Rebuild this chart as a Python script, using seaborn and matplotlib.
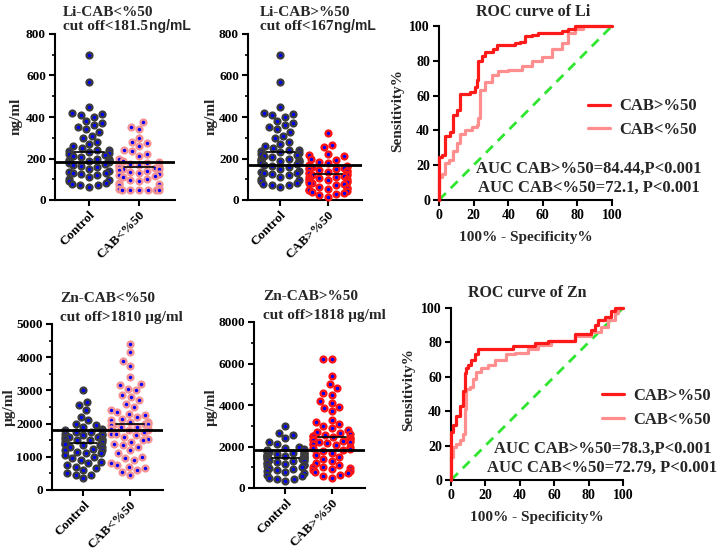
import numpy as np
import pandas as pd
import matplotlib
matplotlib.use("Agg")
import matplotlib.pyplot as plt
import seaborn as sns

# =========================
# DATA
# =========================
li_control = [700, 570, 450, 420, 415, 410, 400, 380, 370, 360, 350, 340, 330, 310, 300,
              280, 270, 260, 250, 240, 240, 235, 230, 225, 220, 215, 210, 205, 200, 200,
              195, 195, 190, 190, 190, 185, 180, 175, 170, 165, 160, 150, 140, 135, 130,
              130, 125, 120, 110, 100, 95, 90, 80, 75, 70, 70, 65]
li_cab_low = [375, 350, 340, 300, 280, 275, 260, 240, 235, 220, 210, 200, 190, 185, 180,
              175, 170, 170, 165, 160, 160, 155, 150, 150, 145, 140, 135, 130, 125, 120,
              115, 110, 100, 95, 90, 80, 75, 70, 60, 55, 50, 50, 50, 50, 50, 50]
li_cab_high = [325, 265, 255, 220, 215, 210, 200, 195, 185, 180, 170, 165, 160, 160, 155,
               155, 150, 150, 145, 140, 140, 135, 130, 130, 125, 120, 120, 115, 110, 110,
               105, 100, 100, 95, 90, 90, 85, 80, 80, 75, 70, 65, 60, 60, 55, 50, 50, 45,
               40, 35, 30, 25, 15]
zn_control = [3000, 2650, 2550, 2400, 2200, 2100, 2000, 1950, 1900, 1850, 1800, 1800, 1750,
              1750, 1700, 1700, 1650, 1650, 1600, 1600, 1600, 1550, 1550, 1500, 1500, 1500,
              1450, 1450, 1400, 1400, 1350, 1350, 1300, 1300, 1250, 1200, 1200, 1150, 1100,
              1100, 1050, 1000, 950, 900, 850, 800, 750, 700, 650, 600, 500, 450, 450, 350]
zn_cab_low = [4400, 4150, 3900, 3750, 3400, 3200, 3150, 3050, 3000, 2850, 2800, 2700, 2600,
              2500, 2400, 2350, 2300, 2250, 2200, 2150, 2100, 2050, 2050, 2000, 2000, 1950,
              1950, 1900, 1900, 1850, 1850, 1800, 1800, 1750, 1700, 1700, 1650, 1600, 1550,
              1500, 1450, 1400, 1350, 1300, 1200, 1100, 1000, 950, 900, 800, 750, 700, 650,
              600, 550, 450]
zn_cab_high = [6200, 6200, 5400, 5000, 4800, 4600, 4500, 4200, 4100, 3900, 3850, 3700, 3300,
               3200, 3100, 3000, 2900, 2800, 2700, 2650, 2600, 2550, 2500, 2500, 2450, 2400,
               2400, 2350, 2300, 2300, 2250, 2200, 2200, 2150, 2100, 2100, 2050, 2000, 1950,
               1900, 1850, 1800, 1700, 1600, 1500, 1400, 1300, 1200, 1100, 1000, 1000, 950,
               900, 850, 800, 750, 700, 650, 600, 500]

cutoffs = {"li_low": 181.5, "li_high": 167, "zn_low": 1810, "zn_high": 1818}

# ROC curves (100% - specificity, sensitivity)
li_high_fpr = [0, 0, 2, 3.5, 6.4, 8.3, 10.2, 12.1, 17.9, 20.8, 21.8, 22.7, 24.7, 26.6, 31.4,
               33.3, 43.9, 46.8, 49.7, 53.6, 57.4, 70.9, 74.8, 78.6, 100]
li_high_tpr = [0, 25, 26, 37, 39, 49, 52, 61, 62, 65, 69, 80, 83, 85, 87,
               89, 90, 91, 94, 95, 96, 97, 98, 100, 100]
li_low_fpr = [0, 0, 1.5, 3.5, 5.5, 8.3, 10.2, 12.1, 15, 18.9, 21.8, 22.7, 23.7, 26.6, 30.4,
              34.3, 40, 48, 53.6, 59.4, 65.1, 70.9, 74.8, 78.6, 83.4, 100]
li_low_tpr = [0, 13, 15, 21, 23, 28, 33, 38, 40, 42, 43, 47, 63, 68, 72,
              74, 75, 77, 80, 82, 87, 90, 96, 98, 100, 100]
zn_high_fpr = [0, 0, 1.2, 3.1, 5, 7, 7.9, 8.9, 9.9, 11.8, 13.8, 15.7, 36, 48.6, 56.4,
               71.9, 81.6, 83.5, 85.5, 89.3, 93.2, 95.2, 100]
zn_high_tpr = [0, 28, 32, 37, 43, 52, 62, 65, 67, 70, 73, 76, 78, 79.5, 81,
               85, 87, 90, 93, 95, 98, 100, 100]
zn_low_fpr = [0, 0, 1.2, 3.1, 5, 7, 7.9, 8.9, 10.9, 12.8, 14.7, 17.6, 21.5, 25.4, 32.2,
              37, 44.8, 50.6, 58.3, 71.9, 81.6, 87.4, 91.3, 95.2, 97.1, 100]
zn_low_tpr = [0, 13.5, 19, 21, 23, 27, 41, 53, 54, 59, 63, 65, 67, 70, 73,
              74, 76, 78.5, 81, 84, 86, 89, 93, 97, 100, 100]

# =========================
# STYLE
# =========================
W, H = 719, 550
CTRL_EDGE = "#3c3c3c"
LOW_EDGE = "#f49494"
HIGH_EDGE = "#ff1414"
DOT_FACE = "#0000ff"
ROC_HIGH = "#ff1a1a"
ROC_LOW = "#ff8e8e"
DIAG = "#2ee62e"
SERIF = ["Liberation Serif", "DejaVu Serif"]
SANS = ["Liberation Sans", "DejaVu Sans"]

sns.set_theme(style="ticks")
plt.rcParams["font.family"] = SERIF
plt.rcParams["font.weight"] = "bold"
plt.rcParams["axes.labelweight"] = "bold"
plt.rcParams["axes.linewidth"] = 1.5
plt.rcParams["xtick.major.width"] = 1.5
plt.rcParams["ytick.major.width"] = 1.5
plt.rcParams["ytick.minor.width"] = 1.2
plt.rcParams["xtick.major.size"] = 4
plt.rcParams["ytick.major.size"] = 4
plt.rcParams["ytick.minor.size"] = 2.5
plt.rcParams["xtick.major.pad"] = 2.5
plt.rcParams["ytick.major.pad"] = 2.5
plt.rcParams["xtick.color"] = "black"
plt.rcParams["ytick.color"] = "black"
plt.rcParams["axes.edgecolor"] = "black"


def px_axes(fig, left, right, top, bottom):
    return fig.add_axes([left / W, 1 - bottom / H, (right - left) / W, (bottom - top) / H])


def ftext(fig, x, y, s, **kw):
    fig.text(x / W, 1 - y / H, s, fontweight="bold", **kw)


def title_lines(fig, x, y1, y2, first, cut, unit):
    # second line: Times-like "cut off..." followed by a sans unit, as in the source
    ftext(fig, x, y1, first, fontsize=11, va="center", family=SERIF)
    t = fig.text(x / W, 1 - y2 / H, cut, fontsize=11, fontweight="bold", va="center",
                 family=SERIF)
    fig.canvas.draw()
    bb = t.get_window_extent()
    fig.text(bb.x1 / W + 0.5 / W, 1 - y2 / H, unit, fontsize=10, fontweight="bold",
             va="center", family=SANS)


def dot_panel(ax, ctrl, case, case_name, case_edge, ymax, step, cutoff):
    df = pd.DataFrame({
        "group": ["Control"] * len(ctrl) + [case_name] * len(case),
        "value": ctrl + case,
    })
    sns.swarmplot(data=df, x="group", y="value", order=["Control", case_name],
                  color=DOT_FACE, size=4.2, linewidth=1.7, edgecolor=CTRL_EDGE,
                  ax=ax, zorder=3, clip_on=False, warn_thresh=1)
    ax.collections[0].set_edgecolor(CTRL_EDGE)
    ax.collections[1].set_edgecolor(case_edge)
    for i, vals in enumerate([ctrl, case]):
        m = np.mean(vals)
        ax.plot([i - 0.3, i + 0.3], [m, m], color="black", lw=1.2, zorder=5)
    ax.axhline(cutoff, color="black", lw=2, zorder=6)
    ax.set_xlim(-0.68, 1.72)
    ax.set_ylim(0, ymax)
    major = np.arange(0, ymax + 1, step)
    ax.set_yticks(major)
    ax.set_yticks(np.arange(0, ymax + 1, step / 2), minor=True)
    ax.set_yticklabels([f"{int(v)}" for v in major], fontsize=9.5, fontweight="bold",
                       family=SERIF)
    ax.set_xticks([0, 1])
    ax.set_xticklabels(["Control", case_name], rotation=45, ha="right",
                       rotation_mode="anchor", fontsize=9.5, fontweight="bold",
                       family=SERIF)
    ax.set_xlabel("")
    ax.set_ylabel("")
    sns.despine(ax=ax)


def roc_panel(ax, hi_fpr, hi_tpr, lo_fpr, lo_tpr, legend_x, legend_y, auc_lines, auc_x,
              auc_y):
    sns.lineplot(x=[0, 100], y=[0, 100], color=DIAG, lw=2, dashes=False,
                 linestyle=(0, (3.5, 2.5)), ax=ax, zorder=2)
    sns.lineplot(x=hi_fpr, y=hi_tpr, color=ROC_HIGH, lw=2.3, estimator=None, sort=False,
                 drawstyle="steps-post", label="CAB>%50", ax=ax, zorder=4, clip_on=False)
    sns.lineplot(x=lo_fpr, y=lo_tpr, color=ROC_LOW, lw=2.3, estimator=None, sort=False,
                 drawstyle="steps-post", label="CAB<%50", ax=ax, zorder=3, clip_on=False)
    ax.set_xlim(0, 100)
    ax.set_ylim(0, 100)
    ticks = [0, 20, 40, 60, 80, 100]
    ax.set_xticks(ticks)
    ax.set_yticks(ticks)
    ax.set_xticklabels([str(t) for t in ticks], fontsize=10, fontweight="bold", family=SERIF)
    ax.set_yticklabels([str(t) for t in ticks], fontsize=10, fontweight="bold", family=SERIF)
    ax.set_xlabel("")
    ax.set_ylabel("")
    ax.legend(loc="center left", bbox_to_anchor=(legend_x, legend_y), frameon=False,
              handlelength=1.3, handletextpad=0.6, labelspacing=0.45,
              prop={"weight": "bold", "size": 12, "family": SERIF})
    for line, yy in zip(auc_lines, auc_y):
        ax.text(auc_x, yy, line, transform=ax.transAxes, ha="center", va="center",
                fontsize=12, fontweight="bold", clip_on=False)
    sns.despine(ax=ax)


fig = plt.figure(figsize=(W / 100, H / 100), dpi=100)

# --- Li row ---
ax1 = px_axes(fig, 55, 175, 34, 200)
dot_panel(ax1, li_control, li_cab_low, "CAB<%50", LOW_EDGE, 800, 200, cutoffs["li_low"])
title_lines(fig, 63, 13, 26, "Li-CAB<%50", "cut off<181.5", "ng/mL")
ftext(fig, 16, 116, "ng/ml", fontsize=11, rotation=90, ha="center", va="center")

ax2 = px_axes(fig, 248, 362, 34, 200)
dot_panel(ax2, li_control, li_cab_high, "CAB>%50", HIGH_EDGE, 800, 200, cutoffs["li_high"])
title_lines(fig, 260, 13, 26, "Li-CAB>%50", "cut off<167", "ng/mL")
ftext(fig, 211, 116, "ng/ml", fontsize=11, rotation=90, ha="center", va="center")

ax3 = px_axes(fig, 439, 612, 26, 200)
roc_panel(ax3, li_high_fpr, li_high_tpr, li_low_fpr, li_low_tpr, 0.775, 0.47,
          ["AUC CAB>%50=84.44,P<0.001", "AUC CAB<%50=72.1, P<0.001"],
          0.867, [0.178, 0.069])
ftext(fig, 533, 12, "ROC curve of Li", fontsize=11.5, ha="center", va="center")
ftext(fig, 526, 238, "100% - Specificity%", fontsize=11, ha="center", va="center")
ftext(fig, 398, 111, "Sensitivity%", fontsize=11, rotation=90, ha="center", va="center")

# --- Zn row ---
ax4 = px_axes(fig, 52, 163, 324, 490)
dot_panel(ax4, zn_control, zn_cab_low, "CAB<%50", LOW_EDGE, 5000, 1000, cutoffs["zn_low"])
ftext(fig, 60, 299, "Zn-CAB<%50", fontsize=11, va="center")
ftext(fig, 60, 317, "cut off>1810 µg/ml", fontsize=11, va="center")
ftext(fig, 9, 407, "µg/ml", fontsize=11, rotation=90, ha="center", va="center")

ax5 = px_axes(fig, 254, 365, 322, 488)
dot_panel(ax5, zn_control, zn_cab_high, "CAB>%50", HIGH_EDGE, 8000, 2000, cutoffs["zn_high"])
ftext(fig, 263, 296, "Zn-CAB>%50", fontsize=11, va="center")
ftext(fig, 263, 315, "cut off>1818 µg/ml", fontsize=11, va="center")
ftext(fig, 211, 407, "µg/ml", fontsize=11, rotation=90, ha="center", va="center")

ax6 = px_axes(fig, 451, 623, 308, 480)
roc_panel(ax6, zn_high_fpr, zn_high_tpr, zn_low_fpr, zn_low_tpr, 0.79, 0.42,
          ["AUC CAB>%50=78.3,P<0.001", "AUC CAB<%50=72.79, P<0.001"],
          0.88, [0.18, 0.07])
ftext(fig, 527, 293, "ROC curve of Zn", fontsize=11.5, ha="center", va="center")
ftext(fig, 537, 518, "100% - Specificity%", fontsize=11, ha="center", va="center")
ftext(fig, 409, 390, "Sensitivity%", fontsize=11, rotation=90, ha="center", va="center")

fig.savefig("out.png", dpi=100, facecolor="white")
